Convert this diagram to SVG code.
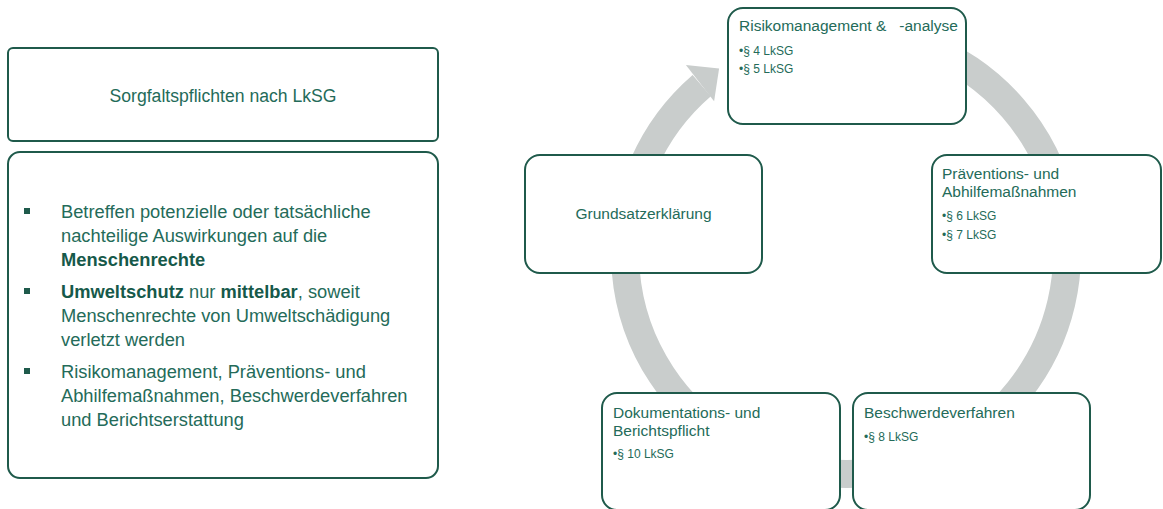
<svg xmlns="http://www.w3.org/2000/svg" width="1163" height="509" viewBox="0 0 1163 509">
<style>
.box{fill:#ffffff;stroke:#1f5a4b;stroke-width:2}
.t{font-family:"Liberation Sans",Arial,sans-serif;fill:#246b59}
.body{font-size:18.3px}
.title{font-size:15.5px}
.item{font-size:12px}
.b{font-weight:bold;fill:#16594a}
.sq{fill:#1f5a4b}
.ring{fill:none;stroke:#c9cdcc;stroke-width:28}
.head{fill:#c9cdcc}
</style>
<rect width="1163" height="509" fill="#ffffff"/>
<g id="connectors">
<path class="ring" d="M 826.74 32.84 A 221 221 0 1 1 701.74 85.58"/>
<polygon class="head" points="685.9,64.9 719.1,68.4 714.1,101.3"/>
</g>
<g id="node-header">
<rect class="box" x="8" y="48" width="430" height="93" rx="5"/>
<text class="t" x="223" y="102" font-size="17.6" text-anchor="middle">Sorgfaltspflichten nach LkSG</text>
</g>
<g id="node-details">
<rect class="box" x="8" y="152" width="430" height="326" rx="12"/>
<rect class="sq" x="24" y="208" width="6" height="6"/>
<rect class="sq" x="24" y="288" width="6" height="6"/>
<rect class="sq" x="24" y="368" width="6" height="6"/>
<text class="t body" x="61" y="218">Betreffen potenzielle oder tatsächliche</text>
<text class="t body" x="61" y="242">nachteilige Auswirkungen auf die</text>
<text class="t body b" x="61" y="266">Menschenrechte</text>
<text class="t body" x="61" y="298"><tspan class="b">Umweltschutz</tspan> nur <tspan class="b">mittelbar</tspan>, soweit</text>
<text class="t body" x="61" y="322">Menschenrechte von Umweltschädigung</text>
<text class="t body" x="61" y="346">verletzt werden</text>
<text class="t body" x="61" y="378">Risikomanagement, Präventions- und</text>
<text class="t body" x="61" y="402">Abhilfemaßnahmen, Beschwerdeverfahren</text>
<text class="t body" x="61" y="426">und Berichtserstattung</text>
</g>
<g id="node-risiko">
<rect class="box" x="728" y="8" width="238" height="116" rx="15"/>
<text class="t title" x="739" y="31" xml:space="preserve">Risikomanagement &amp;   -analyse</text>
<text class="t item" x="739" y="55">•§ 4 LkSG</text>
<text class="t item" x="739" y="73">•§ 5 LkSG</text>
</g>
<g id="node-grundsatz">
<rect class="box" x="525" y="155" width="237" height="118" rx="15"/>
<text class="t title" x="643.5" y="219" text-anchor="middle">Grundsatzerklärung</text>
</g>
<g id="node-praevention">
<rect class="box" x="932" y="155" width="229" height="118" rx="15"/>
<text class="t title" x="942" y="179">Präventions- und</text>
<text class="t title" x="942" y="197">Abhilfemaßnahmen</text>
<text class="t item" x="942" y="220">•§ 6 LkSG</text>
<text class="t item" x="942" y="239">•§ 7 LkSG</text>
</g>
<g id="node-dokumentation">
<rect class="box" x="602" y="393" width="238" height="117" rx="15"/>
<text class="t title" x="613" y="418">Dokumentations- und</text>
<text class="t title" x="613" y="436">Berichtspflicht</text>
<text class="t item" x="613" y="458">•§ 10 LkSG</text>
</g>
<g id="node-beschwerde">
<rect class="box" x="853" y="393" width="237" height="117" rx="15"/>
<text class="t title" x="864" y="418">Beschwerdeverfahren</text>
<text class="t item" x="864" y="441">•§ 8 LkSG</text>
</g>
</svg>
